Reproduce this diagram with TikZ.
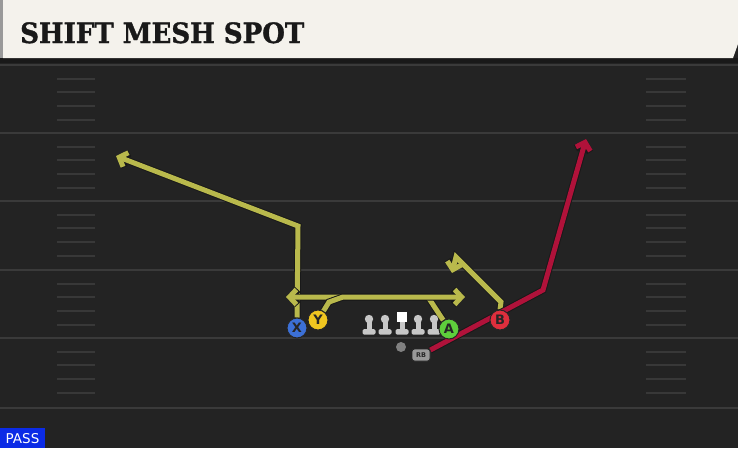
\documentclass[tikz,border=0pt]{standalone}
\usepackage{fontspec}
\setmainfont{DejaVu Sans}
\newfontfamily\titlefont[FakeStretch=0.93,FakeBold=1.2]{DejaVu Serif}
\usetikzlibrary{arrows.meta,positioning}

\definecolor{fieldbg}{HTML}{232323}
\definecolor{yardline}{HTML}{3A3A3A}
\definecolor{hashmark}{HTML}{383838}
\definecolor{titlecream}{HTML}{F4F2EC}
\definecolor{routeyellow}{HTML}{B9B94C}
\definecolor{routered}{HTML}{B0123A}
\definecolor{playerblue}{HTML}{3C70D6}
\definecolor{playeryellow}{HTML}{F0C620}
\definecolor{playergreen}{HTML}{5ECF3C}
\definecolor{playerred}{HTML}{DE2F3D}
\definecolor{passblue}{HTML}{0B2BE6}

\pgfdeclarelayer{field}
\pgfdeclarelayer{routes}
\pgfsetlayers{field,routes,main}

\tikzset{
  player/.style={circle, draw=black!85, line width=1pt, minimum size=20pt,
    inner sep=0pt, text=black!85, font=\bfseries\fontsize{13}{13}\selectfont},
  rbbox/.style={rounded corners=2.5pt, fill=black!40, draw=black!85, line width=0.8pt,
    minimum width=18pt, minimum height=12pt, inner sep=0pt, text=black!85,
    font=\bfseries\fontsize{6.5}{6.5}\selectfont},
  qbdot/.style={circle, fill=black!50, minimum size=10pt, inner sep=0pt},
  route/.style={line width=5pt, draw=#1, line join=miter,
    preaction={draw=black!90, line width=7pt}},
  route/.default=routeyellow,
  tip/.style={-{Straight Barb[length=7pt, width=15pt]}},
  lineman/.pic={
    \fill[black!22] (-2.5,-12) rectangle (2.5,-2);
    \fill[black!22, rounded corners=1.5pt] (-6.5,-3) rectangle (6.5,2.5);
    \fill[black!22] (0,-13) circle (4.2);
  },
  centerman/.pic={
    \fill[black!22] (-2.5,-12) rectangle (2.5,-2);
    \fill[black!22, rounded corners=1.5pt] (-6.5,-3) rectangle (6.5,2.5);
    \fill[white] (-5,-20) rectangle (5,-10);
  }
}

\begin{document}
\begin{tikzpicture}[x=1pt, y=-1pt]
  \useasboundingbox (0,0) rectangle (738,448);

  \begin{pgfonlayer}{field}
    \fill[fieldbg] (0,0) rectangle (738,448);
    % yard lines and hash marks
    \foreach \y in {65,133,201,270,338,408}
      \draw[yardline, line width=2pt] (0,\y) -- (738,\y);
    \foreach \y in {65,133,201,270,338}
      \foreach \d in {14,27,41,55} {
        \draw[hashmark, line width=1.5pt] (57,\y+\d) -- (95,\y+\d);
        \draw[hashmark, line width=1.5pt] (646,\y+\d) -- (686,\y+\d);
      }
    % title bar
    \fill[black!90] (0,58) rectangle (738,63);
    \fill[titlecream] (3,0) -- (738,0) -- (738,44) -- (733,58) -- (3,58) -- cycle;
    \fill[black!40] (0,0) rectangle (3,58);
  \end{pgfonlayer}

  \node[anchor=base west, inner sep=0pt, text=black!90,
    font=\titlefont\bfseries\fontsize{28}{28}\selectfont] (title) at (20,43) {SHIFT MESH SPOT};

  % offensive line
  \pic at (369,332) {lineman};
  \pic at (385,332) {lineman};
  \pic at (402,332) {centerman};
  \pic at (418,332) {lineman};
  \pic at (434,332) {lineman};

  \node[qbdot] (QB) at (401,347) {};
  \node[rbbox] (RB) at (421,355) {RB};
  \node[player, fill=playerblue] (X) at (297,328) {X};
  \node[player, fill=playeryellow] (Y) at (318,320) {Y};
  \node[player, fill=playergreen] (A) at (449,329) {A};
  \node[player, fill=playerred] (B) at (500,320) {B};

  \coordinate (xbreak) at (298,226);
  \coordinate (xend) at (116,156);
  \coordinate (ybreak) at (329,302);
  \coordinate (ymesh) at (343,297);
  \coordinate (yend) at (465,297);
  \coordinate (abreak) at (428,297);
  \coordinate (aend) at (286,297);
  \coordinate (bbreak) at (501,302);
  \coordinate (bspot) at (456,257);
  \coordinate (bend) at (452,273);
  \coordinate (rbbreak) at (543,290);
  \coordinate (rbend) at (586,139);

  \begin{pgfonlayer}{routes}
    \draw[route, tip] (X.north) -- (xbreak) -- (xend);
    \draw[route, tip] (A) -- (abreak) -- (aend);
    \draw[route, tip] (Y) -- (ybreak) -- (ymesh) -- (yend);
    \draw[route, tip] (B.north) -- (bbreak) -- (bspot) -- (bend);
    \draw[route=routered, tip] (RB) -- (rbbreak) -- (rbend);
  \end{pgfonlayer}

  \fill[passblue] (0,428) rectangle (45,448);
  \node[text=white, font=\fontsize{13.5}{13.5}\selectfont, inner sep=0pt] (pass) at (22.5,438.5) {PASS};
\end{tikzpicture}
\end{document}
